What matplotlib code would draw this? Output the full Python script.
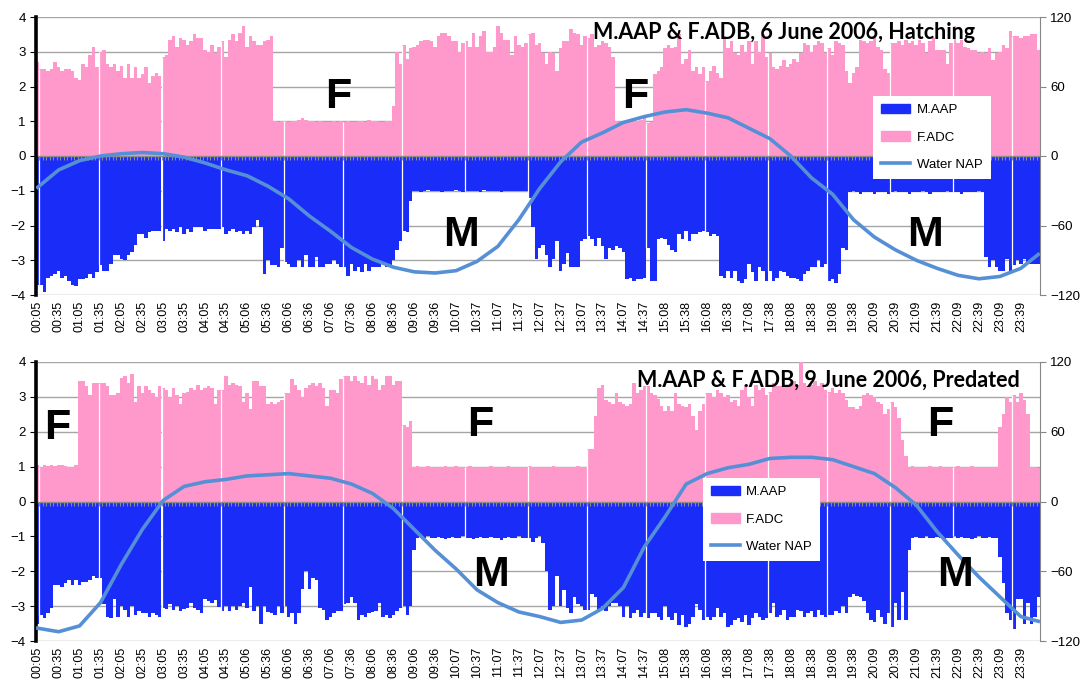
import numpy as np
import matplotlib.pyplot as plt
from matplotlib.patches import Patch
from matplotlib.lines import Line2D

plt.rcParams['font.family'] = ['Liberation Sans', 'DejaVu Sans']

tick_labels = ["00:05", "00:35", "01:05", "01:35", "02:05", "02:35", "03:05", "03:35",
               "04:05", "04:35", "05:06", "05:36", "06:06", "06:36", "07:06", "07:36",
               "08:06", "08:36", "09:06", "09:36", "10:07", "10:37", "11:07", "11:37",
               "12:07", "12:37", "13:07", "13:37", "14:07", "14:37", "15:08", "15:38",
               "16:08", "16:38", "17:08", "17:38", "18:08", "18:38", "19:08", "19:38",
               "20:09", "20:39", "21:09", "21:39", "22:09", "22:39", "23:09", "23:39"]

# 6 June 2006 - hatching (one value per 5 min record)
f_jun6 = [2.7, 2.5, 2.5, 2.45, 2.5, 2.7, 2.55, 2.45, 2.5, 2.5, 2.45, 2.25, 2.2, 2.65, 2.55, 2.9, 3.15, 2.55,
          3.0, 3.05, 2.65, 2.55, 2.65, 2.45, 2.6, 2.25, 2.65, 2.25, 2.55, 2.25, 2.35, 2.55, 2.1, 2.3, 2.4, 2.3,
          2.85, 2.9, 3.35, 3.45, 3.15, 3.4, 3.35, 3.2, 3.3, 3.5, 3.4, 3.4, 3.05, 3.0, 3.2, 2.95, 3.15,
          3.3, 2.85, 3.35, 3.5, 3.3, 3.55, 3.75, 3.15, 3.45, 3.3, 3.2, 3.2, 3.3, 3.35, 3.45,
          1.0, 0.98, 1.0, 1.0, 0.97, 1.02, 1.0, 1.05, 1.08, 1.03, 1.0, 1.02, 0.98, 1.0, 0.97, 0.98, 0.98,
          1.0, 0.98, 1.0, 0.98, 1.0, 0.97, 0.98, 1.0, 1.02, 0.98, 1.03, 1.0, 1.02, 0.98, 0.98, 1.0, 1.0,
          1.45, 3.0, 2.65, 3.2, 2.8, 3.1, 3.15, 3.2, 3.3, 3.35, 3.35, 3.3, 3.15, 3.45, 3.55, 3.55, 3.45, 3.3,
          3.3, 3.0, 3.25, 3.3, 3.15, 3.55, 3.15, 3.45, 3.6, 3.0, 3.0, 3.15, 3.75, 3.55, 3.35, 3.35, 2.9, 3.45,
          3.2, 3.15, 3.25, 3.5,
          3.55, 3.2, 3.25, 2.95, 2.65, 3.0, 2.95, 2.45, 3.1, 3.3, 3.3, 3.65, 3.55, 3.5, 3.2, 3.45, 3.4, 3.5,
          3.15, 3.2, 3.3, 3.25, 3.15, 2.85,
          1.0, 0.98, 1.0, 1.02, 1.05, 1.0, 1.0, 1.05, 1.1, 0.95,
          0.98, 2.35, 2.45, 2.55, 3.1, 3.2, 3.1, 3.15, 3.5, 2.65, 2.8, 3.05, 2.45, 2.55, 2.35, 2.55, 2.15,
          2.45, 2.6, 2.4, 2.25, 3.45, 3.1, 3.3, 2.95, 2.9, 3.2, 3.0, 3.3, 2.65, 3.3, 3.0, 3.5, 2.85, 2.95,
          2.55, 2.5,
          2.6, 2.75, 2.55, 2.65, 2.8, 2.7, 2.95, 3.25, 3.2, 3.0, 3.2, 3.3, 3.25, 2.95, 3.1, 2.9, 3.3, 3.25,
          3.2, 2.45, 2.1, 2.4, 2.55, 3.35, 3.3, 3.25, 3.3, 3.4, 3.15, 3.05, 2.5, 2.4, 3.25, 3.25, 3.3, 3.2,
          3.35, 3.25, 3.3, 3.2, 3.35, 3.25, 2.95, 3.3, 3.4, 3.05, 3.05, 3.05, 2.65, 3.25, 3.75, 3.25, 3.35,
          3.15, 3.1, 3.05, 3.05, 2.95, 3.0, 2.95, 3.1, 2.75, 2.95, 3.0, 3.2, 3.1, 3.6, 3.45, 3.45, 3.4, 3.45,
          3.45, 3.5, 3.5, 3.05]

m_jun6 = [-3.7, -3.7, -3.9, -3.5, -3.45, -3.4, -3.3, -3.5, -3.45, -3.6, -3.7, -3.75, -3.55, -3.55, -3.5,
          -3.4, -3.5, -3.35,
          -3.15, -3.3, -3.3, -3.1, -2.85, -2.85, -2.95, -3.0, -2.85, -2.75, -2.55, -2.25, -2.25, -2.35, -2.2,
          -2.15, -2.15, -2.15,
          -2.45, -2.1, -2.15, -2.1, -2.2, -2.05, -2.25, -2.1, -2.2, -2.05, -2.05, -2.05, -2.15, -2.1, -2.1,
          -2.1, -2.1,
          -2.05, -2.25, -2.15, -2.1, -2.2, -2.15, -2.25, -2.15, -2.25, -2.05, -1.85, -2.05, -3.4, -3.0, -3.15,
          -3.15, -3.2, -2.65, -3.05,
          -3.1, -3.2, -3.2, -3.0, -3.2, -2.85, -3.2, -3.2, -2.9, -3.2, -3.2, -3.1, -3.1, -3.0, -3.1, -3.2,
          -3.2, -3.45, -3.1, -3.3, -3.2, -3.35, -3.1, -3.3, -3.2, -3.2, -3.2, -3.1, -3.2, -3.2, -3.0,
          -2.7, -2.45, -2.15, -2.2, -1.3,
          -1.02, -1.0, -1.05, -1.0, -0.98, -1.0, -1.02, -1.0, -1.05, -1.0, -1.0, -1.02, -0.98, -1.0, -1.05,
          -1.0, -1.02, -1.0, -1.0, -1.05, -0.98, -1.0, -1.02, -1.0, -1.0, -1.03, -1.0, -1.0, -1.02, -1.0,
          -1.0, -1.0, -1.0, -1.2,
          -2.05, -2.95, -2.65, -2.55, -2.85, -3.2, -2.95, -2.45, -3.3, -3.1, -2.8, -3.2, -3.2, -3.2, -2.45,
          -2.4, -2.3, -2.4, -2.6, -2.35, -2.6, -2.95, -2.65, -2.7, -2.6, -2.65, -2.75, -3.55, -3.5, -3.6,
          -3.55, -3.55, -3.5, -2.65, -3.6, -3.6, -2.4, -2.35, -2.4, -2.55, -2.7, -2.75, -2.25, -2.4, -2.15,
          -2.45, -2.25, -2.25, -2.2, -2.15, -2.2, -2.3, -2.25, -2.3, -3.45, -3.5, -3.3, -3.5, -3.3, -3.6,
          -3.65, -3.55, -3.1, -3.35, -3.6, -3.2, -3.3, -3.6, -3.3, -3.6, -3.5,
          -3.3, -3.35, -3.45, -3.5, -3.5, -3.55, -3.6, -3.4, -3.3, -3.2, -3.2, -3.0, -3.2, -3.1, -3.6, -3.55,
          -3.65, -3.4, -2.65, -2.7,
          -1.05, -1.02, -1.05, -1.08, -1.05, -1.03, -1.05, -1.1, -1.05, -1.03, -1.05, -1.08, -1.05, -1.0,
          -1.05, -1.03, -1.05, -1.1, -1.05, -1.05, -1.03, -1.0, -1.05, -1.08, -1.05, -1.03, -1.05, -1.05,
          -1.0, -1.05, -1.03, -1.05, -1.08, -1.05, -1.05, -1.03, -1.05, -1.0, -1.05,
          -2.9, -3.2, -3.0, -3.2, -3.3, -3.3, -2.95, -3.3, -3.15, -3.0, -3.1, -2.95, -3.1, -3.1, -3.1, -3.1]

# 9 June 2006 - predated
f_jun9 = [1.05, 1.0, 1.05, 1.03, 1.05, 1.03, 1.05, 1.05, 1.03, 1.0, 1.0, 1.05,
          3.45, 3.45, 3.3, 3.05, 3.4, 3.4, 3.4, 3.4, 3.3, 3.05, 3.05, 3.1, 3.55, 3.6, 3.4, 3.65, 2.85, 3.3,
          3.1, 3.3, 3.2, 3.1, 3.0, 3.3, 3.25, 3.2, 3.0, 3.25, 3.05, 2.8, 3.1, 3.15, 3.25, 3.2, 3.35, 3.2,
          3.25, 3.3, 3.25, 2.8, 3.2, 3.2, 3.6, 3.35, 3.4, 3.35, 3.3, 2.85, 3.1, 2.65, 3.45, 3.45, 3.3, 3.3,
          2.8, 2.85, 2.8, 2.85, 2.9, 3.1,
          3.1, 3.5, 3.35, 3.2, 3.0, 3.25, 3.35, 3.4, 3.3, 3.4, 3.25, 2.75, 3.2, 3.2, 3.1, 3.5, 3.6, 3.6,
          3.45, 3.6, 3.45, 3.4, 3.6, 3.35, 3.6, 3.5, 3.2, 3.35, 3.6, 3.6, 3.35, 3.45, 3.45,
          2.2, 2.15, 2.3,
          1.0, 1.02, 1.0, 1.0, 1.03, 1.0, 0.98, 1.0, 1.0, 1.02, 1.0, 1.0, 1.03, 0.98, 1.0, 1.0, 1.02, 1.0,
          1.0, 0.98, 1.0, 1.0, 1.03, 1.0, 0.98, 1.0, 1.0, 1.02, 1.0, 1.0, 0.98, 1.0, 1.0, 1.02, 1.0, 1.0,
          1.0, 0.98, 1.0, 1.0, 1.03, 1.0, 1.0, 1.0, 0.98, 1.0, 1.0, 1.02, 1.0, 1.0,
          1.5, 1.5, 2.45, 3.25, 3.35, 2.9, 2.85, 2.8, 3.1, 2.85, 2.8, 2.75, 2.8, 3.4, 3.1, 3.2, 3.3, 3.3,
          3.1, 3.05, 2.95, 2.75, 2.6, 2.75, 2.6, 3.1, 2.8, 2.75, 2.7, 2.8, 2.45, 2.05, 2.6, 2.8, 3.1, 3.1,
          3.0, 3.2, 3.1, 3.0, 3.05, 2.85, 2.9, 2.75, 3.2, 3.35, 3.0, 2.75, 3.35, 3.2, 3.25, 3.05, 3.15, 3.4,
          3.3, 3.3, 3.35, 3.3,
          3.4, 3.45, 3.35, 4.0, 3.4, 3.3, 3.35, 3.45, 3.3, 3.4, 3.2, 3.15, 3.25, 3.1, 3.2, 3.1, 2.9, 2.7,
          2.7, 2.65, 2.75, 3.05, 3.1, 3.05, 3.0, 2.85, 2.8, 2.5, 2.65, 2.85, 2.7, 2.4, 1.75, 1.3,
          1.0, 1.02, 1.0, 0.98, 1.0, 1.0, 1.02, 1.0, 1.0, 1.03, 1.0, 1.0, 0.98, 1.0, 1.02, 1.0, 1.0, 1.0,
          1.03, 1.0, 1.0, 0.98, 1.0, 1.0, 1.0, 1.0,
          2.15, 2.5, 3.0, 2.85, 3.05, 2.85, 3.1, 2.9, 2.5,
          1.0, 1.0, 0.95]

m_jun9 = [-3.5, -3.25, -3.35, -3.2, -3.05, -2.4, -2.4, -2.45, -2.35, -2.25, -2.4, -2.25, -2.4, -2.3,
          -2.3, -2.25, -2.15, -2.2, -2.2, -2.95, -3.3, -3.35, -2.8, -3.3, -3.0, -3.1, -3.3, -3.0, -3.25,
          -3.15, -3.2, -3.2, -3.3, -3.2, -3.25, -3.3, -3.05, -3.08, -2.93, -3.1, -3.0, -3.15, -3.08, -3.05,
          -2.9, -3.05, -3.1, -3.2, -2.8, -2.85, -2.9, -2.83, -3.02, -3.15, -3.0, -3.15, -3.0, -3.1, -3.0,
          -2.9, -3.05, -2.45, -3.15, -3.0, -3.5, -3.0, -3.18, -3.2, -3.25, -3.0, -3.2, -3.0,
          -3.3, -3.2, -3.5, -3.2, -2.5, -2.0, -2.5, -2.2, -2.25, -3.05, -3.1, -3.4, -3.3, -3.2, -3.13,
          -3.13, -2.95, -2.9, -2.75, -2.9, -3.4, -3.25, -3.3, -3.2, -3.18, -3.13, -2.9, -3.3, -3.25, -3.35,
          -3.25, -3.15, -3.05, -3.0, -3.25, -3.0,
          -1.4,
          -1.05, -1.03, -1.05, -1.0, -1.05, -1.05, -1.02, -1.05, -1.08, -1.05, -1.03, -1.05, -1.05, -1.0,
          -1.05, -1.05, -1.08, -1.05, -1.03, -1.05, -1.05, -1.02, -1.05, -1.05, -1.1, -1.05, -1.03, -1.05,
          -1.05, -1.0, -1.05, -1.05, -1.05, -1.15, -1.05, -1.0, -1.2,
          -2.0, -3.1, -3.0, -2.15, -3.0, -2.55, -3.05, -3.2, -2.75, -2.95, -3.0, -3.1, -3.1, -2.65, -2.75,
          -3.1, -3.0, -3.15, -3.0, -2.9, -2.9, -3.0, -3.3, -3.0, -3.35, -3.2, -3.1, -3.3, -3.2, -3.35,
          -3.2, -3.2, -3.3, -3.4, -3.0, -3.3, -3.4, -3.2, -3.55, -3.25, -3.6, -3.5, -3.3, -2.95, -3.1,
          -3.4, -3.3, -3.4, -3.3, -3.05, -3.3, -3.2, -3.6, -3.55, -3.4, -3.35, -3.45, -3.25, -3.55, -3.35,
          -3.2, -3.3, -3.4, -3.35, -3.2, -2.9, -3.3, -3.25, -3.1, -3.4,
          -3.3, -3.3, -3.1, -3.15, -3.3, -3.2, -3.15, -3.3, -3.1, -3.25, -3.3, -3.25, -3.25, -3.15, -3.2,
          -3.0, -3.2, -2.75, -2.65, -2.7, -2.75, -2.85, -3.2, -3.4, -3.45, -3.1, -3.3, -3.5, -3.2, -3.6,
          -2.9, -3.4, -2.6, -3.4,
          -1.4,
          -1.05, -1.03, -1.05, -1.05, -1.0, -1.05, -1.05, -1.03, -1.05, -1.08, -1.05, -1.05, -1.0, -1.05,
          -1.03, -1.05, -1.05, -1.08, -1.05, -1.0, -1.05, -1.05, -1.03, -1.05, -1.05,
          -1.6, -2.35, -3.2, -3.4, -3.65, -2.8, -2.8, -3.5, -2.9, -3.5, -3.3, -2.75]

# water level (cm NAP), read every 6th record
water_idx = list(range(0, 288, 6)) + [287]
water_jun6 = [-27, -12, -4, 0, 2, 3, 2, -1, -6, -12, -17, -26, -37, -52, -65, -79, -89, -96, -100,
              -101, -99, -91, -78, -55, -28, -5, 12, 20, 29, 34, 38, 40, 37, 33, 24, 15, 0, -19, -33,
              -55, -70, -81, -90, -97, -103, -106, -104, -97, -85]
water_jun9 = [-109, -112, -107, -87, -54, -24, 1, 13, 17, 19, 22, 23, 24, 22, 20, 15, 7, -6, -24,
              -42, -58, -76, -87, -95, -99, -104, -102, -92, -74, -39, -13, 15, 24, 29, 32, 37, 38, 38,
              36, 30, 24, 12, -3, -26, -46, -65, -82, -99, -103]

# records where the logger skipped a beat (thin white seams)
gap_bars = [1, 18, 36, 53, 71, 88, 105, 123, 141, 158, 175, 192, 210, 227, 245, 263, 280]

pink = '#ff99cc'
blue = '#1a2cf8'
wcol = '#5590d6'


def draw_panel(ax, f, m, water, title, title_x, title_y, leg_xy, letters):
    n = len(f)
    x = np.arange(n)
    ax.bar(x, f, width=1.0, color=pink, linewidth=0, antialiased=False, zorder=2)
    ax.bar(x, m, width=1.0, color=blue, linewidth=0, antialiased=False, zorder=2)
    g = np.array(gap_bars)
    ax.vlines(g - 0.5, np.array(m)[g], np.array(f)[g], color='white', lw=0.9, zorder=3)
    ax.axhline(0, color='#8c8c8c', lw=1, zorder=4)
    ax.plot(np.arange(n + 1) - 0.5, np.zeros(n + 1), ls='none', marker=3, ms=3,
            mew=0.8, color='#8c8c8c', zorder=4)
    ax.set_xlim(-0.5, n - 0.5)
    ax.set_ylim(-4, 4)
    ax.set_yticks(range(-4, 5))
    ax.yaxis.grid(True, color='#a6a6a6', lw=1)
    ax.set_axisbelow(True)
    ax.set_xticks(range(0, n, 6))
    ax.set_xticklabels(tick_labels, rotation=90, fontsize=9)
    ax.tick_params(axis='x', length=0, pad=4)
    ax.tick_params(axis='y', labelsize=9.5, length=4, direction='out')
    for s in ['top', 'bottom', 'right']:
        ax.spines[s].set_visible(False)
    ax.spines['left'].set_linewidth(2.6)
    ax.spines['left'].set_zorder(6)

    axr = ax.twinx()
    axr.plot(water_idx, water, color=wcol, lw=2.6, zorder=5)
    axr.set_ylim(-120, 120)
    axr.set_yticks([-120, -60, 0, 60, 120])
    axr.tick_params(axis='y', labelsize=9.5, length=4, color='#868686')
    for s in ['top', 'bottom', 'left']:
        axr.spines[s].set_visible(False)
    axr.spines['right'].set_color('#868686')

    for txt, lx, ly in letters:
        axr.text(lx, ly * 30, txt, fontsize=31, fontweight='bold', ha='center', va='center',
                 zorder=6)
    axr.text(title_x, title_y, title, transform=ax.transAxes, ha='right', va='center',
             fontsize=15.5, fontweight='bold', family=['Lato', 'DejaVu Sans'], zorder=6)

    handles = [Patch(color=blue), Patch(color=pink), Line2D([], [], color=wcol, lw=2.6)]
    leg = axr.legend(handles, ['M.AAP', 'F.ADC', 'Water NAP'], loc='upper left',
                     bbox_to_anchor=leg_xy, borderaxespad=0, fontsize=9.5, frameon=True,
                     fancybox=False, edgecolor='none', framealpha=1, labelspacing=1.15,
                     handlelength=2.2, handletextpad=0.5, borderpad=0.6)
    leg.set_zorder(10)


fig = plt.figure(figsize=(10.88, 6.9), dpi=100)
ax1 = fig.add_axes([36 / 1088, 1 - 295 / 690, 1004 / 1088, 278 / 690])
ax2 = fig.add_axes([36 / 1088, 1 - 641 / 690, 1004 / 1088, 279 / 690])

draw_panel(ax1, f_jun6, m_jun6, water_jun6, 'M.AAP & F.ADB, 6 June 2006, Hatching',
           0.935, 0.946, (0.834, 0.716),
           [('F', 86.3, 1.7), ('M', 121.3, -2.28), ('F', 171.5, 1.7), ('M', 254.4, -2.28)])
draw_panel(ax2, f_jun9, m_jun9, water_jun9, 'M.AAP & F.ADB, 9 June 2006, Predated',
           0.98, 0.935, (0.664, 0.584),
           [('F', 5.7, 2.1), ('F', 127, 2.2), ('F', 259, 2.2), ('M', 130, -2.1), ('M', 263, -2.1)])

fig.savefig('out.png', dpi=100)
